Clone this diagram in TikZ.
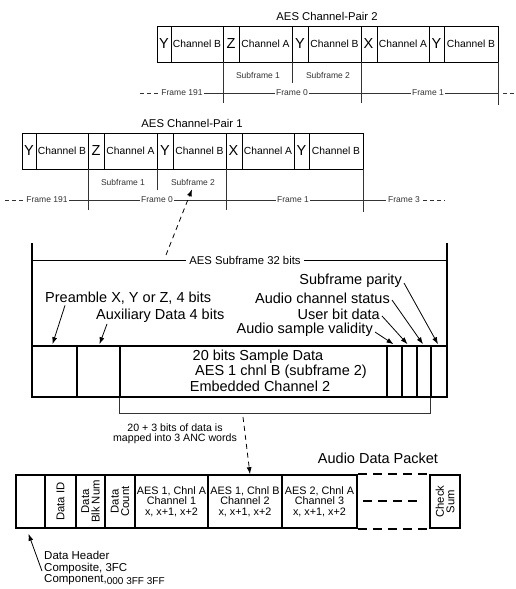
\documentclass[tikz,border=0pt]{standalone}
\usepackage{fontspec}
\setmainfont{Liberation Sans}
\usetikzlibrary{arrows.meta,calc}
\newcommand\aespair[3]{%
\begin{scope}[shift={(#1,#2)}, name prefix=p#3-]
 \node[ttl] (title) at (192,123) {AES Channel-Pair #3};
 \draw[pbox] (22,133) rectangle (363,169);
 \foreach \x in {36,88,104,157,173,226,242,294,309} \draw[pbox] (\x,133) -- (\x,169);
 \node[pre] (y1) at (29,151) {Y};
 \node[chn] (b1) at (62,151) {Channel B};
 \node[pre] (z1) at (96,151) {Z};
 \node[chn] (a1) at (130.5,151) {Channel A};
 \node[pre] (y2) at (165,151) {Y};
 \node[chn] (b2) at (199.5,151) {Channel B};
 \node[pre] (x1) at (233.5,151) {X};
 \node[chn] (a2) at (268,151) {Channel A};
 \node[pre] (y3) at (301.5,151) {Y};
 \node[chn] (b3) at (336,151) {Channel B};
 \draw[thin] (88,169) -- (88,210);
 \draw[thin] (157,169) -- (157,190);
 \draw[thin] (226,169) -- (226,210);
 \draw[thin] (363,169) -- (363,212);
 \node[sm] (s1) at (123,182) {Subframe 1};
 \node[sm] (s2) at (193,182) {Subframe 2};
 \draw[thin] (25,200) -- (363,200);
 \draw[fdash] (5,200) -- (25,200);
 \node[fl] (f191) at (47,200) {Frame 191};
 \node[fl] (f0) at (157,200) {Frame 0};
 \node[fl] (f1) at (293,200) {Frame 1};
\end{scope}}
\begin{document}
\begin{tikzpicture}[x=1pt,y=-1pt,
  pbox/.style={draw,line width=1pt},
  thin/.style={line width=0.7pt,black!80},
  fdash/.style={line width=0.7pt,black!80,dash pattern=on 4pt off 3pt},
  ttl/.style={font=\fontsize{11.3}{12}\selectfont,inner sep=0pt},
  pre/.style={font=\fontsize{14.5}{14}\selectfont,inner sep=0pt},
  chn/.style={font=\fontsize{10.3}{10}\selectfont,inner sep=0pt},
  sm/.style={font=\fontsize{8.5}{9}\selectfont,text=black!80,inner sep=0pt},
  fl/.style={font=\fontsize{8.5}{9}\selectfont,text=black!80,fill=white,inner sep=1.5pt},
  big/.style={font=\fontsize{14.5}{15}\selectfont,inner sep=0pt},
  mid/.style={font=\fontsize{11.3}{12}\selectfont,inner sep=0pt},
  cell/.style={draw,line width=1.6pt,minimum height=51pt,inner sep=0pt},
  pcell/.style={draw,line width=1.6pt,minimum height=53pt,inner sep=0pt,
     font=\fontsize{10.8}{10.5}\selectfont,align=center},
  rot/.style={rotate=90,font=\fontsize{11.3}{10.5}\selectfont,align=center,inner sep=0pt},
  arr/.style={line width=0.8pt,-{Latex[length=7pt,width=5pt]}},
  dcon/.style={line width=0.8pt,dash pattern=on 5pt off 4pt,-{Latex[length=7pt,width=5pt]}}
]
\useasboundingbox (0,0) rectangle (516,589);

% ---- AES channel pairs
\aespair{135}{-107}{2}
\draw[fdash] (503,93) -- (516,93);
\aespair{0}{0}{1}
\draw[thin] (363,200) -- (386,200);
\node[fl,fill=none] (f3) at (404,200) {Frame 3};
\draw[fdash] (423,200) -- (445,200);

% ---- AES subframe
\draw[line width=1.1pt] (32,243) -- (32,346);
\draw[line width=1.1pt] (447,243) -- (447,346);
\draw[thin,black] (32,260) -- (447,260);
\node[mid,fill=white,inner sep=3pt] (sf32) at (245,260) {AES Subframe 32 bits};

\node[cell,minimum width=45pt] (c1) at (54.5,371.5) {};
\node[cell,minimum width=43pt] (c2) at (98.5,371.5) {};
\node[cell,minimum width=267pt] (c3) at (253.5,371.5) {};
\node[cell,minimum width=15pt] (c4) at (394.5,371.5) {};
\node[cell,minimum width=15pt] (c5) at (409.5,371.5) {};
\node[cell,minimum width=14pt] (c6) at (424,371.5) {};
\node[cell,minimum width=16pt] (c7) at (439,371.5) {};

\node[big] (t1) at (258,357) {20 bits Sample Data};
\node[big] (t2) at (281,371.5) {AES 1 chnl B (subframe 2)};
\node[big] (t3) at (260,386) {Embedded Channel 2};

\node[big,anchor=west] (lpre) at (45,298) {Preamble X, Y or Z, 4 bits};
\node[big,anchor=west] (laux) at (96,316) {Auxiliary Data 4 bits};
\node[big,anchor=east] (lpar) at (402,281) {Subframe parity};
\node[big,anchor=east] (lsta) at (390,298) {Audio channel status};
\node[big,anchor=east] (lusr) at (380,314) {User bit data};
\node[big,anchor=east] (lval) at (373,330) {Audio sample validity};

\draw[arr] ($(lpre.south west)+(20,1)$) -- ($(c1.north)+(-2,-1)$);
\draw[arr] ($(laux.south west)+(11,1)$) -- ($(c2.north)+(1,-1)$);
\draw[arr] ($(lval.east)+(2,2)$) -- ($(c4.north)+(-1,-1)$);
\draw[arr] ($(lusr.east)+(2,2)$) -- ($(c5.north)+(-2,-1)$);
\draw[arr] ($(lsta.east)+(2,2)$) -- ($(c6.north)+(-1,-1)$);
\draw[arr] ($(lpar.east)+(2,2)$) -- ($(c7.north)+(-1,-1)$);

% dashed link from pair 1 subframe 2
\coordinate (dA) at (166,255);
\draw[dcon] (dA) -- ($(p1-s2.south)+(-1,4)$);

% bracket and mapping
\draw[thin] (c3.south west) -- ++(0,16) -| (c7.south west);
\node[font=\fontsize{10.6}{10}\selectfont,align=center,inner sep=0pt] (map) at (175,434)
  {20 + 3 bits of data is\\mapped into 3 ANC words};

% ---- Audio data packet
\node[big] (adp) at (378,458) {Audio Data Packet};
\node[pcell,minimum width=29pt] (h0) at (30.5,501.5) {};
\node[pcell,minimum width=31pt] (did) at (60.5,501.5) {};
\node[pcell,minimum width=29pt] (dbn) at (90.5,501.5) {};
\node[pcell,minimum width=30pt] (dc) at (120,501.5) {};
\node[pcell,minimum width=73pt] (aa) at (171.5,501.5) {AES 1, Chnl A\\Channel 1\\x, x+1, x+2};
\node[pcell,minimum width=74pt] (ab) at (245,501.5) {AES 1, Chnl B\\Channel 2\\x, x+1, x+2};
\node[pcell,minimum width=75pt] (ac) at (319.5,501.5) {AES 2, Chnl A\\Channel 3\\x, x+1, x+2};
\node[pcell,minimum width=30pt] (cs) at (445,501.5) {};
\draw[line width=1.6pt,dash pattern=on 9pt off 6pt] (ac.north east) -- (cs.north west);
\draw[line width=1.6pt,dash pattern=on 9pt off 6pt] (ac.south east) -- (cs.south west);
\draw[line width=1.6pt,dash pattern=on 9pt off 6pt] (363,501) -- (419,501);

\node[rot] (tdid) at (did) {Data ID};
\node[rot] (tdbn) at (dbn) {Data\\Blk Num};
\node[rot] (tdc) at (dc) {Data\\Count};
\node[rot] (tcs) at (cs) {Check\\Sum};

\coordinate (dB) at (243,417);
\draw[dcon] (dB) -- ($(ab.north)+(5,0)$);

\node[font=\fontsize{11.5}{11.5}\selectfont,align=left,anchor=north west,inner sep=0pt] (hdr) at (44,551)
  {Data Header\\Composite, 3FC\\Component,{\fontsize{10}{10}\selectfont\raisebox{-1.5pt}{000 3FF 3FF}}};
\draw[arr] ($(hdr.west)+(-2,3)$) -- ($(h0.south)+(-2,5)$);
\end{tikzpicture}
\end{document}
